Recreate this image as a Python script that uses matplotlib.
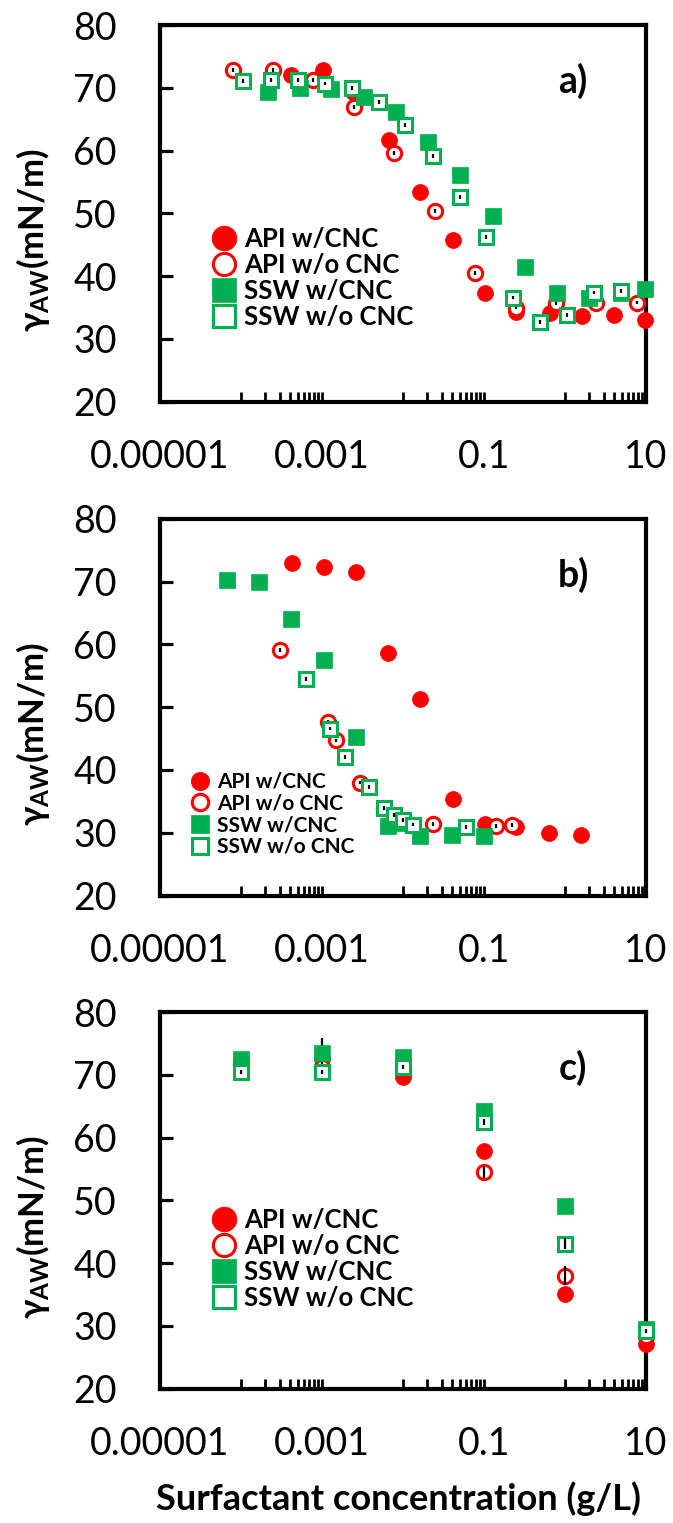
import matplotlib
matplotlib.use("Agg")
import matplotlib.pyplot as plt

plt.rcParams['font.family'] = ['Lato', 'DejaVu Sans']
plt.rcParams['mathtext.fontset'] = 'custom'
plt.rcParams['mathtext.rm'] = 'Lato'
plt.rcParams['mathtext.bf'] = 'Lato:bold'
plt.rcParams['mathtext.fallback'] = 'stixsans'

series_names = ['API w/CNC', 'API w/o CNC', 'SSW w/CNC', 'SSW w/o CNC']
x_tick_values = [1e-5, 1e-3, 0.1, 10]
x_tick_labels = ['0.00001', '0.001', '0.1', '10']
y_tick_values = [20, 30, 40, 50, 60, 70, 80]

# ---- panel a) ----
a_api_cnc_x = [4.1e-4, 1.03e-3, 2.44e-3, 6.7e-3, 0.0164, 0.041, 0.102, 0.247, 0.647, 1.61, 4.0, 9.8]
a_api_cnc_y = [72.0, 72.8, 69.4, 61.7, 53.4, 45.8, 37.3, 34.3, 34.1, 33.7, 33.8, 33.0]
a_api_cnc_err = [0.3] * 12
a_api_x = [7.9e-5, 2.49e-4, 7.8e-4, 2.49e-3, 7.8e-3, 0.0247, 0.0767, 0.247, 0.776, 2.42, 7.76]
a_api_y = [72.8, 72.8, 71.2, 66.9, 59.6, 50.4, 40.5, 35.0, 35.7, 35.7, 35.8]
a_api_err = [0.3] * 11
a_ssw_cnc_x = [2.14e-4, 5.3e-4, 1.3e-3, 3.3e-3, 8.2e-3, 0.0206, 0.0512, 0.128, 0.318, 0.79, 1.97, 4.9, 9.8]
a_ssw_cnc_y = [69.4, 70.0, 69.8, 68.6, 66.2, 61.4, 56.1, 49.6, 41.5, 37.3, 36.5, 37.3, 37.9]
a_ssw_cnc_err = [0.3] * 13
a_ssw_x = [1.07e-4, 2.37e-4, 5.1e-4, 1.08e-3, 2.37e-3, 5.1e-3, 0.0106, 0.0232, 0.050, 0.107, 0.23, 0.49, 1.05, 2.3, 4.9]
a_ssw_y = [71.1, 71.3, 71.2, 70.7, 70.0, 67.8, 64.1, 59.1, 52.6, 46.2, 36.6, 32.7, 33.8, 37.4, 37.7]
a_ssw_err = [0.3] * 15

# ---- panel b) ----
b_api_cnc_x = [4.27e-4, 1.06e-3, 2.62e-3, 6.6e-3, 0.0164, 0.041, 0.102, 0.247, 0.634, 1.58]
b_api_cnc_y = [72.9, 72.3, 71.6, 58.6, 51.3, 35.4, 31.4, 30.9, 30.0, 29.6]
b_api_cnc_err = [0.3] * 10
b_api_x = [2.99e-4, 1.2e-3, 1.5e-3, 2.93e-3, 5.8e-3, 0.0124, 0.0232, 0.141, 0.223]
b_api_y = [59.1, 47.6, 44.7, 38.0, 33.9, 31.3, 31.4, 31.1, 31.2]
b_api_err = [0.3] * 9
b_ssw_cnc_x = [6.8e-5, 1.69e-4, 4.2e-4, 1.05e-3, 2.62e-3, 6.6e-3, 9.6e-3, 0.0163, 0.0406, 0.101]
b_ssw_cnc_y = [70.2, 69.9, 64.0, 57.5, 45.2, 31.1, 31.6, 29.5, 29.7, 29.5]
b_ssw_cnc_err = [0.3] * 10
b_ssw_x = [6.4e-4, 1.26e-3, 1.91e-3, 3.85e-3, 5.8e-3, 7.8e-3, 0.0101, 0.0134, 0.0608]
b_ssw_y = [54.5, 46.6, 42.1, 37.3, 33.9, 32.8, 32.0, 31.3, 30.9]
b_ssw_err = [0.3] * 9

# ---- panel c) ----
c_x = [1e-4, 1e-3, 0.01, 0.1, 1, 10]
c_api_cnc_y = [72.4, 72.6, 69.7, 57.8, 35.1, 27.1]
c_api_cnc_err = [0.3, 0.3, 0.3, 0.3, 0.3, 0.3]
c_api_y = [71.8, 71.3, 71.0, 54.5, 38.0, 28.4]
c_api_err = [0.3, 0.3, 0.3, 1.0, 1.5, 0.3]
c_ssw_cnc_y = [72.5, 73.4, 72.9, 64.2, 49.1, 29.5]
c_ssw_cnc_err = [0.3, 2.4, 0.3, 0.3, 0.3, 0.3]
c_ssw_y = [70.5, 70.5, 71.2, 62.5, 43.1, 29.2]
c_ssw_err = [0.3, 0.3, 0.3, 0.5, 0.9, 0.3]

RED = '#FF0000'
GREEN = '#00B050'
# marker, face, edge, size, edge width, hollow
styles = [('o', RED, RED, 11.5, 0.5, False),
          ('o', 'white', RED, 10.3, 2.2, True),
          ('s', GREEN, GREEN, 11, 0.5, False),
          ('s', 'white', GREEN, 9.8, 2.2, True)]


def draw_panel(ax, data, tag, leg_anchor, leg_size, leg_scale):
    for i, (xs, ys, errs) in enumerate(data):
        m, fc, ec, ms, mew, hollow = styles[i]
        base = 3 + 2 * i
        ax.plot(xs, ys, linestyle='none', marker=m, markerfacecolor=fc,
                markeredgecolor=ec, markersize=ms, markeredgewidth=mew,
                label=series_names[i], zorder=base, clip_on=False)
        eb = ax.errorbar(xs, ys, yerr=errs, fmt='none', ecolor='black',
                         elinewidth=1.6, capsize=0,
                         zorder=base + 0.5 if hollow else base - 0.5)
        for coll in eb[2]:
            coll.set_clip_on(False)

    ax.set_xscale('log')
    ax.set_xlim(1e-5, 10)
    ax.set_ylim(20, 80)
    ax.set_xticks(x_tick_values)
    ax.set_xticklabels(x_tick_labels)
    ax.set_xticks([m * 10.0 ** e for e in (-5, -3, -1) for m in range(10, 100, 10)], minor=True)
    ax.xaxis.set_minor_formatter(plt.NullFormatter())
    ax.set_yticks(y_tick_values)
    ax.tick_params(axis='x', which='both', direction='in', length=7, width=2,
                   labelsize=27, pad=27)
    ax.tick_params(axis='y', direction='in', length=9.5, width=2.3,
                   labelsize=27, pad=31)
    for s in ax.spines.values():
        s.set_linewidth(3)

    ax.set_ylabel(r'$\mathbf{\gamma_{AW}}$(mN/m)', fontsize=25, fontweight='bold')
    ax.yaxis.set_label_coords(-0.222, 0.43)

    ax.text(0.85, 0.852, tag, transform=ax.transAxes, fontsize=27,
            fontweight='bold', ha='center', va='center')

    ax.legend(loc='upper left', bbox_to_anchor=leg_anchor, frameon=False,
              prop={'size': leg_size, 'weight': 'bold'}, markerscale=leg_scale,
              handlelength=1.0, handletextpad=0.3, labelspacing=0.08,
              borderpad=0, borderaxespad=0)


fig = plt.figure(figsize=(6.73, 15.23), dpi=100)
ax_a = fig.add_axes([0.2377, 0.7362, 0.7222, 0.2473])
ax_b = fig.add_axes([0.2377, 0.4120, 0.7222, 0.2473])
ax_c = fig.add_axes([0.2377, 0.0882, 0.7222, 0.2473])

draw_panel(ax_a, [(a_api_cnc_x, a_api_cnc_y, a_api_cnc_err),
                  (a_api_x, a_api_y, a_api_err),
                  (a_ssw_cnc_x, a_ssw_cnc_y, a_ssw_cnc_err),
                  (a_ssw_x, a_ssw_y, a_ssw_err)],
           'a)', (0.105, 0.465), 18.5, 1.55)
draw_panel(ax_b, [(b_api_cnc_x, b_api_cnc_y, b_api_cnc_err),
                  (b_api_x, b_api_y, b_api_err),
                  (b_ssw_cnc_x, b_ssw_cnc_y, b_ssw_cnc_err),
                  (b_ssw_x, b_ssw_y, b_ssw_err)],
           'b)', (0.061, 0.328), 15, 1.15)
draw_panel(ax_c, [(c_x, c_api_cnc_y, c_api_cnc_err),
                  (c_x, c_api_y, c_api_err),
                  (c_x, c_ssw_cnc_y, c_ssw_cnc_err),
                  (c_x, c_ssw_y, c_ssw_err)],
           'c)', (0.105, 0.481), 18.5, 1.55)

ax_c.set_xlabel('Surfactant concentration (g/L)', fontsize=26, fontweight='bold')
ax_c.xaxis.set_label_coords(0.49, -0.245)

fig.savefig('out.png', dpi=100)
